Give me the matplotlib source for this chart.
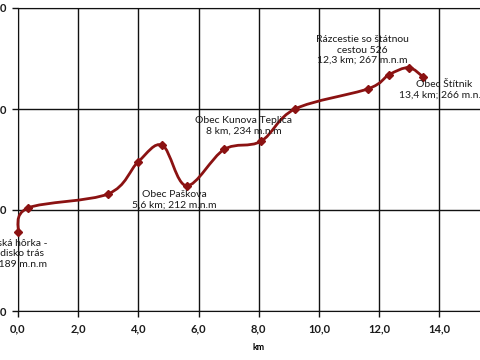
import matplotlib
matplotlib.use("Agg")
import matplotlib.pyplot as plt
from matplotlib.path import Path
from matplotlib.patches import PathPatch
from matplotlib.ticker import FuncFormatter

plt.rcParams['font.family'] = ['Lato', 'DejaVu Sans']

# elevation profile of the trail
km = [0.0, 0.33, 3.0, 4.0, 4.8, 5.6, 6.85, 8.07, 9.2, 11.63, 12.33, 12.98, 13.45]
alt = [189, 201, 208, 224, 232, 212, 230, 234, 250, 260, 267, 270.5, 266]

labels = [
    "Plešivská hôrka -\nvýchodisko trás\n0 km; 189 m.n.m",
    "Obec Paškova\n5,6 km; 212 m.n.m",
    "Obec Kunova Teplica\n8 km, 234 m.n.m",
    "Rázcestie so štátnou\ncestou 526\n12,3 km; 267 m.n.m",
    "Obec Štítnik\n13,4 km; 266 m.n.m",
]
label_x = [-0.3, 5.18, 7.5, 11.43, 14.15]
label_y = [178.5, 205.2, 241.6, 279.2, 259.4]

line_col = '#8b1212'

fig = plt.figure(figsize=(4.8, 3.6), dpi=100)
ax = fig.add_axes([18 / 480, 49 / 360, 16 * 30.1 / 480, 303 / 360])

# smoothed line (catmull-rom as bezier segments, like excel's smooth line)
pts = list(zip(km, alt))
n = len(pts)
verts = [pts[0]]
codes = [Path.MOVETO]
for i in range(n - 1):
    p0 = pts[i - 1] if i > 0 else pts[i]
    p1 = pts[i]
    p2 = pts[i + 1]
    p3 = pts[i + 2] if i + 2 < n else pts[i + 1]
    c1 = (p1[0] + (p2[0] - p0[0]) / 6, p1[1] + (p2[1] - p0[1]) / 6)
    c2 = (p2[0] - (p3[0] - p1[0]) / 6, p2[1] - (p3[1] - p1[1]) / 6)
    verts += [c1, c2, p2]
    codes += [Path.CURVE4] * 3
ax.add_patch(PathPatch(Path(verts, codes), facecolor='none', edgecolor=line_col,
                       lw=2, zorder=3, clip_on=False))
ax.plot(km, alt, linestyle='none', marker='D', ms=4.5, color=line_col, zorder=4,
        clip_on=False)

for t, x, y in zip(labels, label_x, label_y):
    ax.text(x, y, t, ha='center', va='center', fontsize=7.5, color='#1a1a1a',
            linespacing=1.2, zorder=5)

ax.set_xlim(0, 16)
ax.set_ylim(150, 300)
ax.set_xticks([0, 2, 4, 6, 8, 10, 12, 14])
ax.set_yticks([150, 200, 250, 300])
ax.xaxis.set_major_formatter(FuncFormatter(lambda v, p: f"{v:.1f}".replace('.', ',')))
ax.grid(True, color='#111111', lw=1)
ax.set_axisbelow(True)
for s in ax.spines.values():
    s.set_color('#111111')
ax.tick_params(direction='out', length=4, width=1, color='#111111', labelsize=8,
               labelcolor='#1a1a1a')
ax.tick_params(axis='y', pad=4)
ax.tick_params(axis='x', pad=5)
for lab in ax.get_xticklabels() + ax.get_yticklabels():
    lab.set_fontweight('bold')
ax.set_xlabel('km', fontsize=6.5, fontweight='bold', labelpad=1)
ax.xaxis.set_label_coords(8.0 / 16, -0.105)

fig.savefig('out.png', dpi=100)
